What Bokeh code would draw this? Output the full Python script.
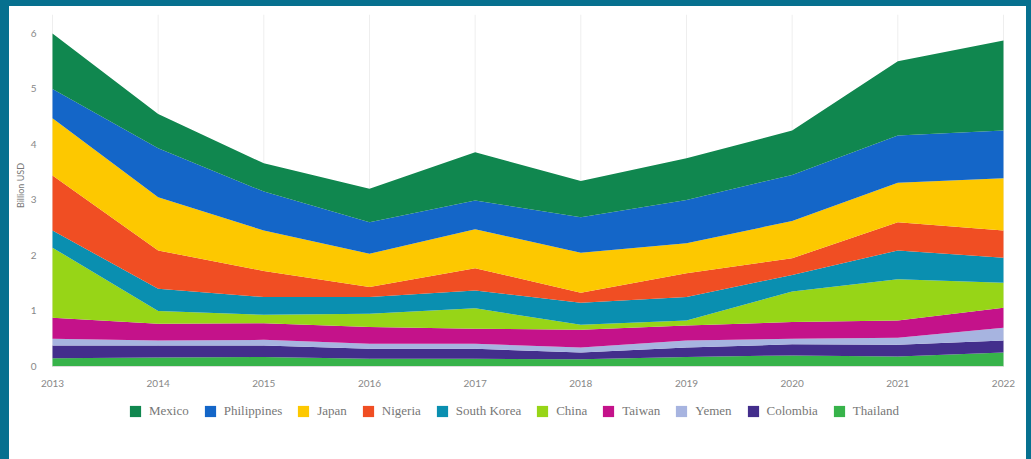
import math
from bokeh.plotting import figure
from bokeh.models import (ColumnDataSource, Range1d, FixedTicker, Legend, LegendItem,
                          Div, Label)
from bokeh.layouts import column, row
from bokeh.embed import file_html
from bokeh.resources import INLINE

years = [2013, 2014, 2015, 2016, 2017, 2018, 2019, 2020, 2021, 2022]
thailand = [0.15, 0.16, 0.17, 0.14, 0.14, 0.13, 0.17, 0.20, 0.18, 0.25]
colombia = [0.23, 0.22, 0.21, 0.18, 0.18, 0.12, 0.17, 0.20, 0.21, 0.22]
yemen = [0.12, 0.09, 0.10, 0.09, 0.09, 0.09, 0.13, 0.10, 0.13, 0.23]
taiwan = [0.38, 0.30, 0.30, 0.30, 0.27, 0.32, 0.27, 0.30, 0.31, 0.36]
china = [1.26, 0.23, 0.15, 0.24, 0.37, 0.09, 0.09, 0.55, 0.74, 0.45]
south_korea = [0.31, 0.40, 0.32, 0.30, 0.32, 0.40, 0.42, 0.30, 0.52, 0.45]
nigeria = [0.99, 0.69, 0.47, 0.18, 0.40, 0.18, 0.43, 0.30, 0.51, 0.49]
japan = [1.03, 0.96, 0.73, 0.60, 0.70, 0.72, 0.54, 0.67, 0.71, 0.94]
philippines = [0.53, 0.88, 0.70, 0.57, 0.52, 0.64, 0.78, 0.83, 0.85, 0.86]
mexico = [1.00, 0.62, 0.51, 0.60, 0.87, 0.65, 0.75, 0.80, 1.34, 1.62]

countries = ["Thailand", "Colombia", "Yemen", "Taiwan", "China",
             "South Korea", "Nigeria", "Japan", "Philippines", "Mexico"]
series = [thailand, colombia, yemen, taiwan, china,
          south_korea, nigeria, japan, philippines, mexico]
colors = ["#37b34a", "#432e8c", "#a7b4e0", "#c4128a", "#97d517",
          "#0a8fb0", "#f04e23", "#fdc800", "#1466c8", "#10874f"]
y_ticks = [0, 1, 2, 3, 4, 5, 6]
y_label = "Billion USD"

TEAL = "#06708f"
Y_TOP = 6.34
Y_BOTTOM = -1.639   # room below zero for tick labels and legend
X_START = 2012.612  # room left of 2013 for y tick labels and axis title
X_END = 2022.199

data = {"year": years}
for name, vals in zip(countries, series):
    data[name] = vals
source = ColumnDataSource(data)

p = figure(width=1017, height=453, output_backend="svg", toolbar_location=None,
           x_range=Range1d(X_START, X_END), y_range=Range1d(Y_BOTTOM, Y_TOP),
           min_border_left=2, min_border_right=2, min_border_top=8, min_border_bottom=2)
p.background_fill_color = "white"
p.border_fill_color = "white"
p.outline_line_color = None
p.grid.visible = False

# vertical grid lines at each year, spanning only the data area
p.segment(x0=years, y0=[0] * len(years), x1=years, y1=[Y_TOP] * len(years),
          line_color="#eeeeee", line_width=1)

renderers = p.varea_stack(stackers=countries, x="year", color=colors, source=source)

p.xaxis.ticker = FixedTicker(ticks=years)
p.yaxis.ticker = FixedTicker(ticks=y_ticks)
for ax in (p.xaxis, p.yaxis):
    ax.major_tick_line_color = None
    ax.minor_tick_line_color = None
    ax.axis_line_color = "#dddddd"
    ax.major_label_text_font = "Lato"
    ax.major_label_text_font_size = "10px"
    ax.major_label_text_color = "#888888"
p.xaxis.fixed_location = 0
p.xaxis.bounds = (years[0], years[-1])
p.xaxis.major_label_standoff = 7
p.yaxis.fixed_location = years[0]
p.yaxis.bounds = (0, Y_TOP)
p.yaxis.axis_line_color = None
p.yaxis.major_label_standoff = 10

p.add_layout(Label(x=X_START + 0.085, y=3.26, text=y_label, angle=math.pi / 2,
                   text_align="center", text_baseline="middle",
                   text_font="Lato", text_font_size="9px", text_color="#777777"))

items = [LegendItem(label=c, renderers=[r]) for c, r in zip(countries, renderers)][::-1]
legend = Legend(items=items, orientation="horizontal", location=(117, 38),
                glyph_width=14, glyph_height=14, label_standoff=7, spacing=14,
                label_text_font="Liberation Serif", label_text_font_size="13px",
                label_text_color="#777777", border_line_color=None,
                background_fill_alpha=0, padding=2, margin=0)
p.add_layout(legend, "center")


def strip(w, h):
    return Div(text="", width=w, height=h,
               styles={"background-color": TEAL, "margin": "0", "padding": "0"})


layout = column(strip(1031, 6), row(strip(9, 453), p, strip(5, 453), spacing=0), spacing=0)

open("out.html", "w").write(file_html(layout, INLINE))
